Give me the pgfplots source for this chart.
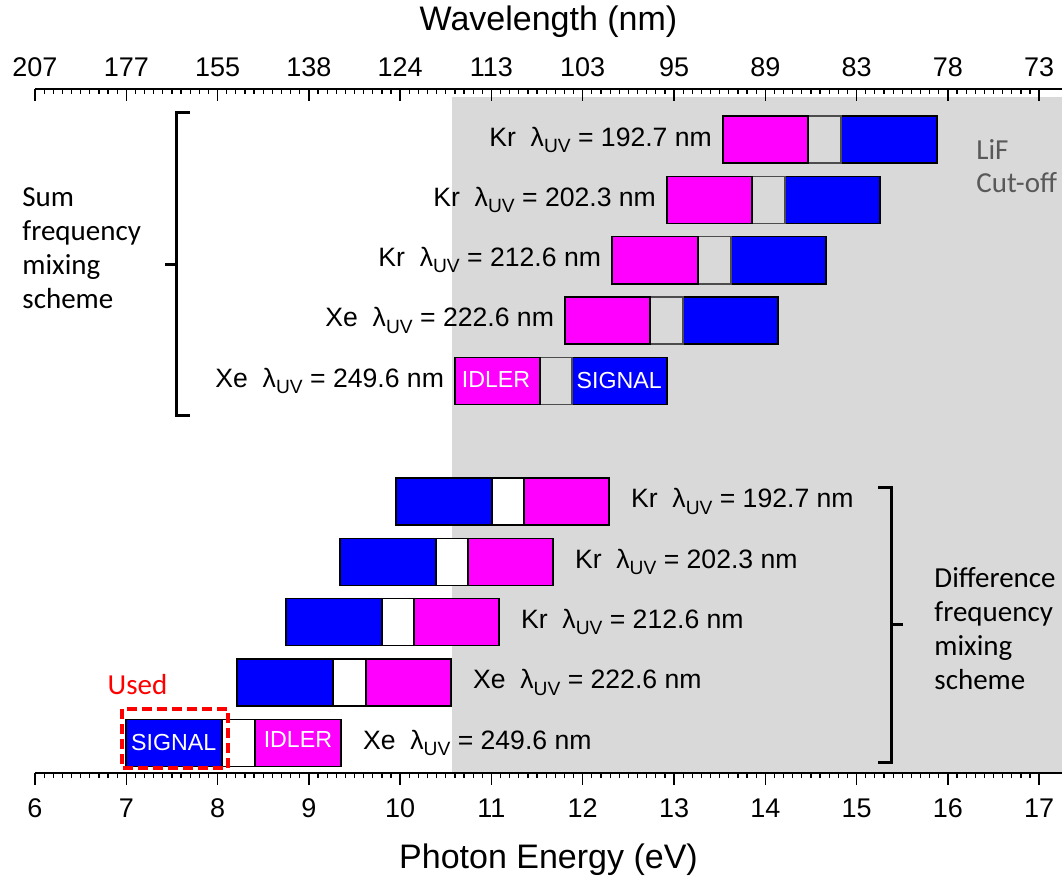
\documentclass[border=0pt]{standalone}
\usepackage{fontspec}
\setmainfont{Liberation Sans}
\newfontfamily\calfont{Carlito}
\usepackage{pgfplots}
\usepackage{pgfplotstable}
\pgfplotsset{compat=1.18}

\definecolor{idler}{RGB}{255,0,255}
\definecolor{signal}{RGB}{0,0,255}
\definecolor{lif}{RGB}{217,217,217}
\definecolor{note}{RGB}{89,89,89}

% band edges in eV: e0 | first band | e1 gap e2 | second band | e3
\pgfplotstableread{
y    e0     e1     e2     e3
10.5 13.536 14.467 14.829 15.881
9.5  12.923 13.854 14.216 15.256
8.5  12.321 13.263 13.624 14.665
7.5  11.806 12.737 13.098 14.139
6.5  10.601 11.532 11.882 12.923
}\sumtab

\pgfplotstableread{
y    e0     e1     e2     e3
4.5  9.954  11.006 11.357 12.288
3.5  9.341  10.393 10.743 11.674
2.5  8.749  9.801  10.152 11.083
1.5  8.213  9.264  9.626  10.557
0.5  6.997  8.048  8.410  9.352
}\difftab

\pgfplotsset{
  common/.style={
    scale only axis, width=513.5pt, height=342pt,
    xmin=6, xmax=17.25, ymin=0, ymax=11.34,
    enlargelimits=false, clip=false,
    axis y line=none,
    xtick={6,...,17}, minor x tick num=9,
    major tick length=6pt, minor tick length=2.5pt,
    major tick style={black, line width=0.75pt},
    minor tick style={black, line width=0.6pt},
    axis line style={black, line width=1pt},
    /pgf/number format/assume math mode=true,
    tick label style={font=\fontsize{13.5}{15}\selectfont},
  },
  bars/.style={xbar stacked, bar width=0.78, hide y axis},
  seg/.style={draw=black, line width=0.7pt},
}
\tikzset{
  lbl/.style={font=\fontsize{13.3}{15}\selectfont},
  blk/.style={anchor=west, align=left, inner sep=0pt, font=\calfont\fontsize{14.5}{17}\selectfont},
  band/.style={text=white, font=\fontsize{11.6}{13}\selectfont},
}

\newcommand{\lab}[2]{#1\ \ λ\raisebox{-0.45ex}{\fontsize{9.6}{10}\selectfont UV} = #2 nm}

\begin{document}
\begin{tikzpicture}
% base axis: LiF region, energy scale, annotations
\begin{axis}[common, name=main, axis x line*=bottom, tick align=outside,
  axis on top, xticklabel style={yshift=-3.5pt}]
  \addplot[draw=none, fill=lif] coordinates {(10.568,0) (17.25,0) (17.25,11.2) (10.568,11.2)};

  \node[font=\fontsize{17}{19}\selectfont] at (rel axis cs:0.5,0) [yshift=-43.5pt] {Photon Energy (eV)};
  \node[font=\fontsize{17}{19}\selectfont] at (rel axis cs:0.5,1) [yshift=33.5pt] {Wavelength (nm)};

  % brackets grouping the two schemes
  \draw[line width=1.5pt] (axis cs:7.698,10.958) -- (axis cs:7.555,10.958) -- (axis cs:7.555,5.935) -- (axis cs:7.698,5.935);
  \draw[line width=1.5pt] (axis cs:7.555,8.422) -- (axis cs:7.424,8.422);
  \draw[line width=1.5pt] (axis cs:15.234,4.741) -- (axis cs:15.377,4.741) -- (axis cs:15.377,0.166) -- (axis cs:15.234,0.166);
  \draw[line width=1.5pt] (axis cs:15.377,2.454) -- (axis cs:15.508,2.454);

  \node[blk] at (axis cs:5.858,8.70) {Sum\\frequency\\mixing\\scheme};
  \node[blk] at (axis cs:15.848,2.40) {Difference\\frequency\\mixing\\scheme};
  \node[blk, text=note, font=\calfont\fontsize{14.5}{16.5}\selectfont] at (axis cs:16.308,10.06) {LiF\\Cut-off};
  \node[text=red, font=\calfont\fontsize{14.5}{17}\selectfont] at (axis cs:7.123,1.46) {Used};
\end{axis}

% difference-frequency bands: signal | gap | idler
\begin{axis}[common, bars, hide x axis]
  \addplot[draw=none, fill=none] table[x=e0, y=y] {\difftab};
  \addplot[seg, fill=signal] table[x expr=\thisrow{e1}-\thisrow{e0}, y=y] {\difftab};
  \addplot[seg, fill=white] table[x expr=\thisrow{e2}-\thisrow{e1}, y=y] {\difftab};
  \addplot[seg, fill=idler] table[x expr=\thisrow{e3}-\thisrow{e2}, y=y] {\difftab};
\end{axis}

% sum-frequency bands: idler | gap | signal, with the wavelength scale on top
\begin{axis}[common, bars, axis x line*=top, tick align=inside,
  xticklabel style={yshift=2.5pt},
  xticklabels={207,177,155,138,124,113,103,95,89,83,78,73}]
  \addplot[draw=none, fill=none] table[x=e0, y=y] {\sumtab};
  \addplot[seg, fill=idler] table[x expr=\thisrow{e1}-\thisrow{e0}, y=y] {\sumtab};
  \addplot[draw=black!70, line width=0.7pt, fill=none] table[x expr=\thisrow{e2}-\thisrow{e1}, y=y] {\sumtab};
  \addplot[seg, fill=signal] table[x expr=\thisrow{e3}-\thisrow{e2}, y=y] {\sumtab};
\end{axis}

% labels set over the bands
\begin{axis}[common, hide x axis, hide y axis]
  \node[lbl, anchor=east] at (axis cs:13.536,10.5) [xshift=-2pt] {\lab{Kr}{192.7}};
  \node[lbl, anchor=east] at (axis cs:12.923,9.5) [xshift=-2pt] {\lab{Kr}{202.3}};
  \node[lbl, anchor=east] at (axis cs:12.321,8.5) [xshift=-2pt] {\lab{Kr}{212.6}};
  \node[lbl, anchor=east] at (axis cs:11.806,7.5) [xshift=-2pt] {\lab{Xe}{222.6}};
  \node[lbl, anchor=east] at (axis cs:10.601,6.5) [xshift=-2pt] {\lab{Xe}{249.6}};

  \node[lbl, anchor=west] at (axis cs:12.288,4.5) [xshift=7.5pt] {\lab{Kr}{192.7}};
  \node[lbl, anchor=west] at (axis cs:11.674,3.5) [xshift=7.5pt] {\lab{Kr}{202.3}};
  \node[lbl, anchor=west] at (axis cs:11.083,2.5) [xshift=7.5pt] {\lab{Kr}{212.6}};
  \node[lbl, anchor=west] at (axis cs:10.557,1.5) [xshift=7.5pt] {\lab{Xe}{222.6}};
  \node[lbl, anchor=west] at (axis cs:9.352,0.5) [xshift=7.5pt] {\lab{Xe}{249.6}};

  \node[band] at (axis cs:11.05,6.53) {IDLER};
  \node[band] at (axis cs:12.40,6.5) {SIGNAL};
  \node[band] at (axis cs:7.52,0.5) {SIGNAL};
  \node[band] at (axis cs:8.88,0.55) {IDLER};

  \draw[red, line width=1.6pt, dash pattern=on 5pt off 2.5pt] (axis cs:6.953,1.061) rectangle (axis cs:8.114,0.083);
\end{axis}

\pgfresetboundingbox
\path[use as bounding box] ([shift={(-17.5pt,-52pt)}]main.south west) rectangle ([shift={(0.5pt,44.5pt)}]main.north east);
\end{tikzpicture}
\end{document}
